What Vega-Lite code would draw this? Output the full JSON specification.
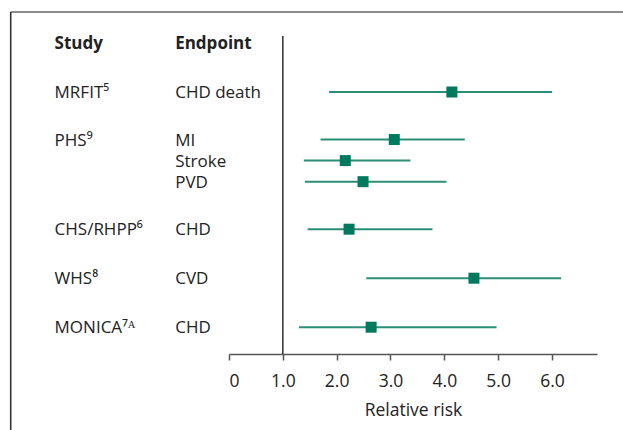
{
  "$schema": "https://vega.github.io/schema/vega-lite/v6.json",
  "width": 368,
  "height": 318,
  "autosize": {"type": "none"},
  "padding": {"left": 229, "top": 36, "right": 26, "bottom": 76},
  "config": {
    "view": {"stroke": null},
    "font": "Open Sans",
    "text": {"font": "Open Sans", "fontSize": 17, "color": "#222222", "dy": 1}
  },
  "data": {
    "values": [
      {"study": "MRFIT⁵", "endpoint": "CHD death", "row": 1.0, "rr": 4.14, "lo": 1.86, "hi": 6.0},
      {"study": "PHS⁹", "endpoint": "MI", "row": 1.97, "rr": 3.07, "lo": 1.7, "hi": 4.38},
      {"study": "PHS⁹", "endpoint": "Stroke", "row": 2.4, "rr": 2.16, "lo": 1.39, "hi": 3.37},
      {"study": "PHS⁹", "endpoint": "PVD", "row": 2.83, "rr": 2.49, "lo": 1.41, "hi": 4.04},
      {"study": "CHS/RHPP⁶", "endpoint": "CHD", "row": 3.8, "rr": 2.23, "lo": 1.46, "hi": 3.78},
      {"study": "WHS⁸", "endpoint": "CVD", "row": 4.8, "rr": 4.55, "lo": 2.55, "hi": 6.17},
      {"study": "MONICA⁷ᴬ", "endpoint": "CHD", "row": 5.8, "rr": 2.64, "lo": 1.3, "hi": 4.97}
    ]
  },
  "layer": [
    {
      "mark": {"type": "rule", "color": "#2a8f76", "strokeWidth": 2},
      "encoding": {
        "x": {
          "field": "lo", "type": "quantitative",
          "scale": {"domain": [0, 6.836], "nice": false, "zero": false},
          "axis": {
            "values": [0, 1, 2, 3, 4, 5, 6],
            "labelExpr": "datum.value == 0 ? '0' : format(datum.value, '.1f')",
            "title": "Relative risk",
            "grid": false,
            "domainColor": "#555555",
            "domainWidth": 1.5,
            "tickColor": "#555555",
            "tickWidth": 1.5,
            "tickSize": 6,
            "labelFont": "Open Sans",
            "labelFontSize": 17.5,
            "labelColor": "#222222",
            "labelPadding": 12,
            "titleFont": "Open Sans",
            "titleFontSize": 17.5,
            "titleFontWeight": "normal",
            "titleColor": "#222222",
            "titlePadding": 12
          }
        },
        "x2": {"field": "hi"},
        "y": {
          "field": "row", "type": "quantitative",
          "scale": {"domain": [-0.143, 6.347], "reverse": true, "nice": false, "zero": false},
          "axis": null
        }
      }
    },
    {
      "data": {"values": [{}]},
      "mark": {"type": "tick", "orient": "horizontal", "color": "#666666", "thickness": 1.7, "size": 1224, "opacity": 1},
      "encoding": {
        "x": {"datum": 7.314, "type": "quantitative"},
        "y": {"datum": -0.633, "type": "quantitative"}
      }
    },
    {
      "data": {"values": [{}]},
      "mark": {"type": "tick", "orient": "vertical", "color": "#333333", "thickness": 1.6, "size": 836, "opacity": 1},
      "encoding": {
        "x": {"datum": -4.055, "type": "quantitative"},
        "y": {"datum": 7.898, "type": "quantitative"}
      }
    },
    {
      "data": {"values": [{}]},
      "mark": {"type": "rule", "color": "#222222", "strokeWidth": 1.4},
      "encoding": {
        "x": {"datum": 1, "type": "quantitative"}
      }
    },
    {
      "mark": {"type": "square", "filled": true, "opacity": 1, "color": "#007a5e", "size": 121},
      "encoding": {
        "x": {"field": "rr", "type": "quantitative"},
        "y": {"field": "row", "type": "quantitative"}
      }
    },
    {
      "mark": {"type": "text", "align": "left", "baseline": "middle"},
      "encoding": {
        "x": {"datum": -1.0, "type": "quantitative"},
        "y": {"field": "row", "type": "quantitative"},
        "text": {"field": "endpoint"}
      }
    },
    {
      "transform": [{"aggregate": [{"op": "min", "field": "row", "as": "first"}], "groupby": ["study"]}],
      "mark": {"type": "text", "align": "left", "baseline": "middle"},
      "encoding": {
        "x": {"datum": -3.24, "type": "quantitative"},
        "y": {"field": "first", "type": "quantitative"},
        "text": {"field": "study"}
      }
    },
    {
      "data": {"values": [{}]},
      "mark": {"type": "text", "align": "left", "baseline": "middle", "fontWeight": "bold"},
      "encoding": {
        "x": {"datum": -3.24, "type": "quantitative"},
        "y": {"datum": 0, "type": "quantitative"},
        "text": {"value": "Study"}
      }
    },
    {
      "data": {"values": [{}]},
      "mark": {"type": "text", "align": "left", "baseline": "middle", "fontWeight": "bold"},
      "encoding": {
        "x": {"datum": -1.0, "type": "quantitative"},
        "y": {"datum": 0, "type": "quantitative"},
        "text": {"value": "Endpoint"}
      }
    }
  ]
}
